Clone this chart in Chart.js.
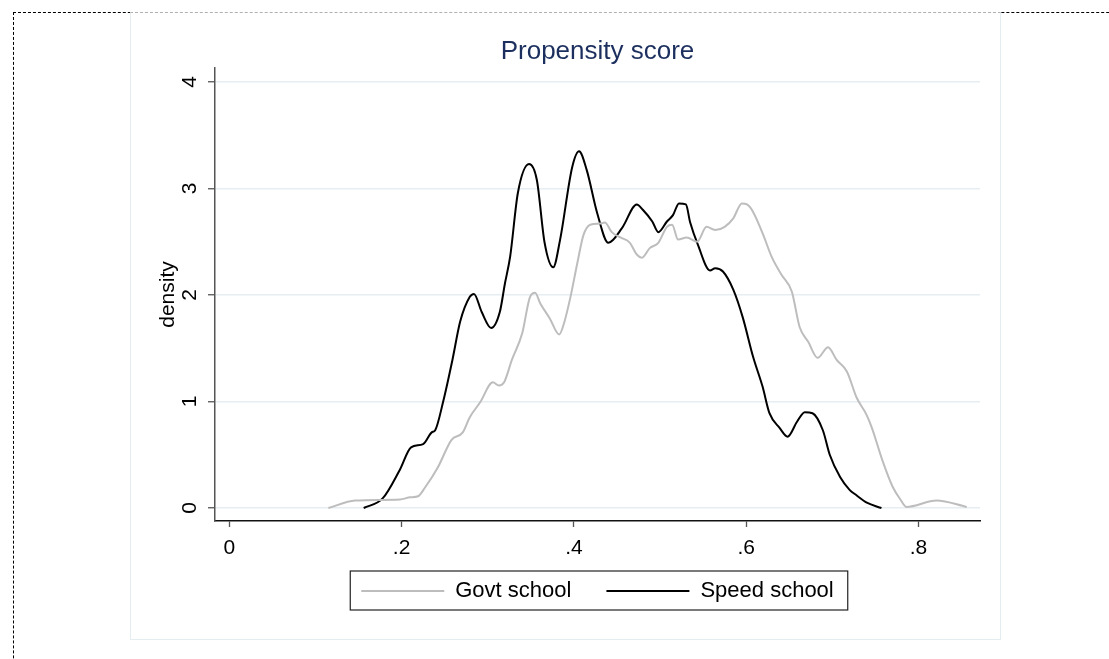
<!DOCTYPE html>
<html lang="en">

<head>
    <meta charset="UTF-8">
    <title>Propensity score</title>
    <style>
        body { margin: 0; background: #fff; }
        #frame { position: absolute; left: 13px; top: 12px; width: 1200px; height: 800px;
                 border-top: 1px dashed #000; border-left: 1px dashed #000; }
        #panel { position: absolute; left: 130px; top: 12px; width: 869px; height: 626px;
                 border: 1px solid #e4edf0; border-top: 1px dashed #b0b0b0; background: #fff; }
        #wrap { position: absolute; left: 130px; top: 12px; width: 935px; height: 625px; }
    </style>
</head>

<body>
    <div id="frame"></div>
    <div id="panel"></div>
    <div id="wrap"><canvas id="psCanvas"></canvas></div>

    <script src="https://cdn.jsdelivr.net/npm/chart.js@4/dist/chart.umd.min.js"></script>
    <script>
        // kernel density of the propensity score
        var govtX = [0.115, 0.146, 0.198, 0.210, 0.219, 0.227, 0.242, 0.258, 0.271, 0.279, 0.291, 0.306, 0.313, 0.319,
            0.328, 0.340, 0.349, 0.355, 0.361, 0.372, 0.383, 0.388, 0.396, 0.404, 0.411, 0.419, 0.430, 0.436, 0.444,
            0.454, 0.465, 0.473, 0.479, 0.488, 0.498, 0.508, 0.514, 0.521, 0.531, 0.543, 0.554, 0.564, 0.575, 0.585,
            0.595, 0.601, 0.608, 0.619, 0.630, 0.641, 0.653, 0.662, 0.672, 0.683, 0.695, 0.705, 0.717, 0.728, 0.740,
            0.746, 0.758, 0.770, 0.779, 0.786, 0.821, 0.856];
        var govtY = [0, 0.07, 0.08, 0.10, 0.11, 0.19, 0.38, 0.64, 0.71, 0.85, 0.99, 1.18, 1.15, 1.18,
            1.39, 1.64, 1.98, 2.02, 1.92, 1.78, 1.63, 1.72, 1.98, 2.30, 2.56, 2.66, 2.67, 2.68, 2.59,
            2.54, 2.49, 2.38, 2.35, 2.44, 2.49, 2.64, 2.66, 2.52, 2.54, 2.50, 2.64, 2.61, 2.64, 2.72,
            2.86, 2.85, 2.78, 2.58, 2.35, 2.19, 2.03, 1.70, 1.56, 1.41, 1.51, 1.39, 1.28, 1.04, 0.87,
            0.75, 0.45, 0.20, 0.08, 0.01, 0.07, 0.01];

        var speedX = [0.156, 0.178, 0.198, 0.211, 0.225, 0.235, 0.239, 0.248, 0.259, 0.268, 0.279, 0.284, 0.293, 0.304,
            0.314, 0.320, 0.326, 0.335, 0.348, 0.357, 0.366, 0.376, 0.384, 0.398, 0.406, 0.415, 0.427, 0.440, 0.456,
            0.473, 0.480, 0.491, 0.498, 0.508, 0.515, 0.522, 0.530, 0.535, 0.544, 0.558, 0.564, 0.573, 0.585, 0.596,
            0.608, 0.619, 0.627, 0.639, 0.648, 0.659, 0.668, 0.677, 0.689, 0.697, 0.709, 0.720, 0.728, 0.740, 0.757];
        var speedY = [0, 0.09, 0.36, 0.57, 0.60, 0.71, 0.73, 0.99, 1.39, 1.75, 1.98, 2.01, 1.84, 1.69,
            1.84, 2.11, 2.36, 2.96, 3.23, 3.08, 2.49, 2.26, 2.52, 3.20, 3.35, 3.17, 2.77, 2.49, 2.63,
            2.85, 2.80, 2.69, 2.59, 2.69, 2.75, 2.86, 2.85, 2.68, 2.47, 2.23, 2.25, 2.22, 2.05, 1.79,
            1.42, 1.14, 0.89, 0.75, 0.67, 0.81, 0.90, 0.89, 0.73, 0.50, 0.29, 0.17, 0.12, 0.05, 0];

        var xTicks = [0, 0.2, 0.4, 0.6, 0.8];
        var xTickLabels = ['0', '.2', '.4', '.6', '.8'];
        var yTicks = [0, 1, 2, 3, 4];
        var yTickLabels = ['0', '1', '2', '3', '4'];

        var seriesNames = ['Govt school', 'Speed school'];
        var seriesColors = ['#bdbdbd', '#000000'];

        function toPoints(xs, ys) {
            return xs.map(function (x, i) { return { x: x, y: ys[i] }; });
        }

        var fontFam = '"Liberation Sans", Arial, sans-serif';
        Chart.defaults.font.family = fontFam;
        Chart.defaults.color = '#000';

        // legend sits closer to the axis than its padding would allow, and gets a box
        var legendBox = {
            id: 'legendBox',
            afterLayout: function (chart) {
                chart.legend.top -= 18;
                chart.legend.bottom -= 18;
            },
            afterDraw: function (chart) {
                var hb = chart.legend.legendHitBoxes;
                if (!hb || !hb.length) return;
                var last = hb[hb.length - 1];
                var mid = hb[0].top + hb[0].height / 2;
                var ctx = chart.ctx;
                ctx.save();
                ctx.strokeStyle = '#222';
                ctx.lineWidth = 1.2;
                var left = hb[0].left - 11;
                ctx.strokeRect(left, mid - 20, last.left + last.width + 14 - left, 39);
                ctx.restore();
            }
        };

        var ctx = document.getElementById('psCanvas').getContext('2d');
        var psChart = new Chart(ctx, {
            type: 'line',
            data: {
                datasets: [{
                    label: seriesNames[0],
                    data: toPoints(govtX, govtY),
                    borderColor: seriesColors[0],
                    borderWidth: 2,
                    pointRadius: 0,
                    cubicInterpolationMode: 'monotone'
                }, {
                    label: seriesNames[1],
                    data: toPoints(speedX, speedY),
                    borderColor: seriesColors[1],
                    borderWidth: 2,
                    pointRadius: 0,
                    cubicInterpolationMode: 'monotone'
                }]
            },
            options: {
                responsive: true,
                maintainAspectRatio: false,
                animation: false,
                layout: { padding: { left: 0, right: 0, top: 0, bottom: 7 } },
                plugins: {
                    tooltip: { enabled: false },
                    title: {
                        display: true,
                        text: 'Propensity score',
                        color: '#1c2f5e',
                        font: { size: 26, weight: 'normal', family: fontFam },
                        padding: { top: 24.4, bottom: 0.4 }
                    },
                    legend: {
                        position: 'bottom',
                        labels: {
                            boxWidth: 83,
                            boxHeight: 2,
                            padding: 35,
                            font: { size: 22, family: fontFam },
                            color: '#000',
                            generateLabels: function (chart) {
                                return chart.data.datasets.map(function (ds, i) {
                                    return { text: ds.label, fillStyle: ds.borderColor, strokeStyle: ds.borderColor,
                                        lineWidth: 0, datasetIndex: i, hidden: false };
                                });
                            }
                        }
                    }
                },
                scales: {
                    x: {
                        type: 'linear',
                        min: -0.0166,
                        max: 0.8714,
                        afterBuildTicks: function (s) { s.ticks = xTicks.map(function (v) { return { value: v }; }); },
                        afterFit: function (s) { s.height = 42; },
                        ticks: {
                            padding: 8.4,
                            font: { size: 21 },
                            color: '#000',
                            maxRotation: 0,
                            callback: function (v) { return xTickLabels[xTicks.indexOf(v)]; }
                        },
                        grid: { drawOnChartArea: false, drawTicks: true, tickLength: 6, tickColor: '#555', tickWidth: 1.3 },
                        border: { color: '#111', width: 1.5 }
                    },
                    y: {
                        min: -0.122,
                        max: 4.131,
                        afterBuildTicks: function (s) { s.ticks = yTicks.map(function (v) { return { value: v }; }); },
                        afterFit: function (s) { s.width = 85; },
                        ticks: {
                            padding: 12,
                            minRotation: 90,
                            maxRotation: 90,
                            crossAlign: 'center',
                            font: { size: 21 },
                            color: '#000',
                            callback: function (v) { return yTickLabels[yTicks.indexOf(v)]; }
                        },
                        grid: { color: '#e6eef1', lineWidth: 1.5, drawTicks: true, tickLength: 7, tickColor: '#555', tickWidth: 1.3 },
                        border: { color: '#555', width: 1.5 },
                        title: {
                            display: true,
                            text: 'density',
                            font: { size: 21, family: fontFam },
                            color: '#000',
                            padding: { top: 25.4, bottom: 0 }
                        }
                    },
                    // empty right margin, so title and legend centre over the plot as in the original
                    yR: {
                        position: 'right',
                        display: true,
                        afterFit: function (s) { s.width = 85; },
                        ticks: { display: false },
                        grid: { display: false },
                        border: { display: false }
                    }
                }
            },
            plugins: [legendBox]
        });
    </script>
</body>

</html>
